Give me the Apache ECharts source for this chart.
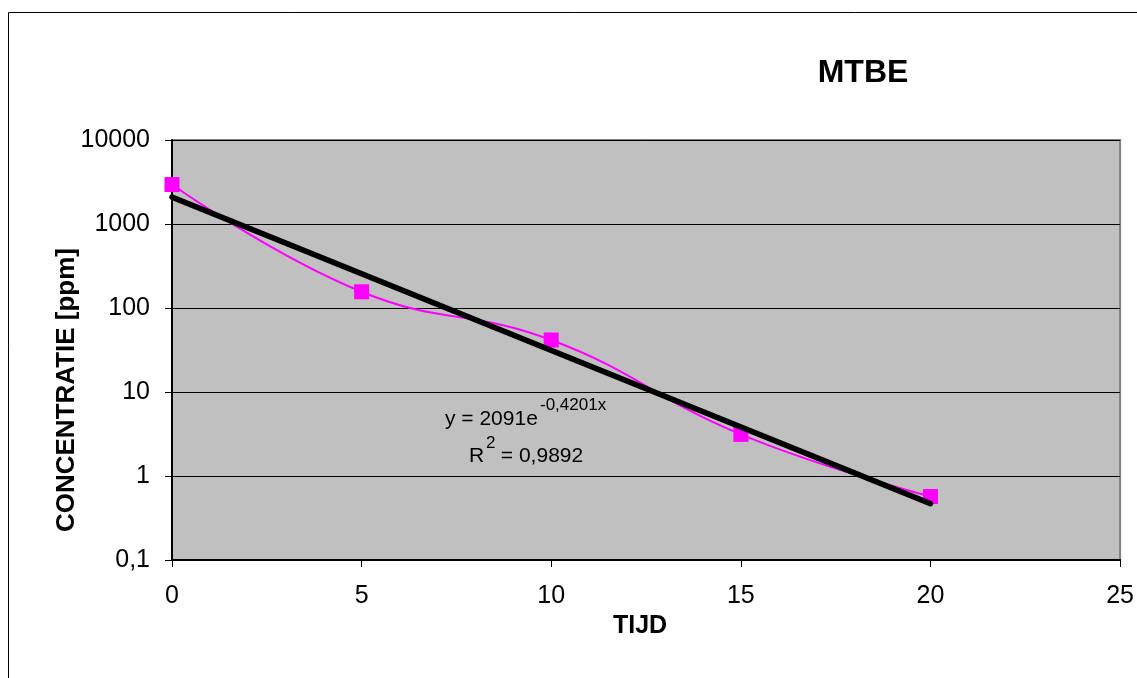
<!DOCTYPE html>
<html>
<head>
<meta charset="utf-8">
<script src="https://cdn.jsdelivr.net/npm/echarts@6/dist/echarts.min.js"></script>
<style>
html,body{margin:0;padding:0;background:#fff;}
#chart{width:1137px;height:678px;}
</style>
</head>
<body>
<div id="chart"></div>
<script>
// Data
const tijd = [0, 5, 10, 15, 20];
const concentratie = [2950, 156, 41.6, 3.13, 0.57];
// exponential trendline y = 2091 e^(-0.4201 x), endpoints at x = 0 and x = 20
const trendX = [0, 20];
const trendY = [2091, 0.469];
const yTickLabels = ['0,1', '1', '10', '100', '1000', '10000'];
const titleText = 'MTBE';
const xName = 'TIJD';
const yName = 'CONCENTRATIE [ppm]';
const eqMain = 'y = 2091e';
const eqSup = '-0,4201x';
const r2Main = 'R';
const r2Sup = '2';
const r2Rest = ' = 0,9892';

const FONT = 'Liberation Sans, Arial, sans-serif';
const chart = echarts.init(document.getElementById('chart'));

chart.setOption({
  animation: false,
  backgroundColor: '#ffffff',
  textStyle: { fontFamily: FONT },
  title: {
    text: titleText,
    left: 858,
    top: 52,
    textAlign: 'center',
    textStyle: { fontFamily: FONT, fontSize: 32, fontWeight: 'bold', color: '#000' }
  },
  grid: {
    left: 172, top: 140, width: 951, height: 420,
    show: true,
    backgroundColor: '#C0C0C0',
    borderColor: '#808080',
    borderWidth: 2
  },
  xAxis: {
    type: 'value',
    min: 0, max: 25, interval: 5,
    name: xName,
    nameLocation: 'middle',
    nameGap: 40,
    nameTextStyle: { fontFamily: FONT, fontSize: 25, fontWeight: 'bold', color: '#000', padding: [0, 12, 0, 0] },
    axisLine: { show: true, onZero: false, lineStyle: { color: '#000', width: 2 } },
    axisTick: { show: true, inside: false, length: 7, lineStyle: { color: '#000', width: 1 } },
    axisLabel: { fontFamily: FONT, fontSize: 25, color: '#000', margin: 24 },
    splitLine: { show: false }
  },
  yAxis: {
    type: 'log',
    logBase: 10,
    min: 0.1, max: 10000,
    splitNumber: 5,
    axisLine: { show: true, lineStyle: { color: '#000', width: 2 } },
    axisTick: { show: true, inside: false, length: 7, lineStyle: { color: '#000', width: 1 } },
    axisLabel: {
      fontFamily: FONT, fontSize: 25, color: '#000', margin: 22,
      formatter: function (v) {
        const i = Math.round(Math.log10(v)) + 1;
        return yTickLabels[i] !== undefined ? yTickLabels[i] : String(v);
      }
    },
    splitLine: { show: true, lineStyle: { color: '#000', width: 1 } },
    minorTick: { show: false }
  },
  series: [
    {
      name: 'MTBE',
      type: 'line',
      data: tijd.map((x, i) => [x, concentratie[i]]),
      smooth: 0.45,
      symbol: 'rect',
      symbolSize: 15,
      lineStyle: { color: '#FF00FF', width: 2 },
      itemStyle: { color: '#FF00FF' },
      z: 3
    },
    {
      name: 'Trend',
      type: 'line',
      data: trendX.map((x, i) => [x, trendY[i]]),
      symbol: 'none',
      lineStyle: { color: '#000', width: 5.5, cap: 'round' },
      z: 5
    }
  ],
  graphic: [
    {
      type: 'rect',
      shape: { x: 8.5, y: 12.5, width: 1200, height: 700 },
      style: { fill: 'none', stroke: '#000', lineWidth: 1 },
      silent: true, z: 0
    },
    {
      type: 'text', x: 67, y: 390, rotation: Math.PI / 2,
      style: { text: yName, font: 'bold 26px ' + FONT, fill: '#000', align: 'center', verticalAlign: 'middle' }
    },
    {
      type: 'text', x: 445, y: 419,
      style: { text: eqMain, font: '21px ' + FONT, fill: '#000', align: 'left', verticalAlign: 'middle' }
    },
    {
      type: 'text', x: 540, y: 405,
      style: { text: eqSup, font: '17px ' + FONT, fill: '#000', align: 'left', verticalAlign: 'middle' }
    },
    {
      type: 'text', x: 469, y: 456,
      style: { text: r2Main, font: '21px ' + FONT, fill: '#000', align: 'left', verticalAlign: 'middle' }
    },
    {
      type: 'text', x: 486, y: 443,
      style: { text: r2Sup, font: '17px ' + FONT, fill: '#000', align: 'left', verticalAlign: 'middle' }
    },
    {
      type: 'text', x: 495, y: 456,
      style: { text: r2Rest, font: '21px ' + FONT, fill: '#000', align: 'left', verticalAlign: 'middle' }
    }
  ]
});
</script>
</body>
</html>
